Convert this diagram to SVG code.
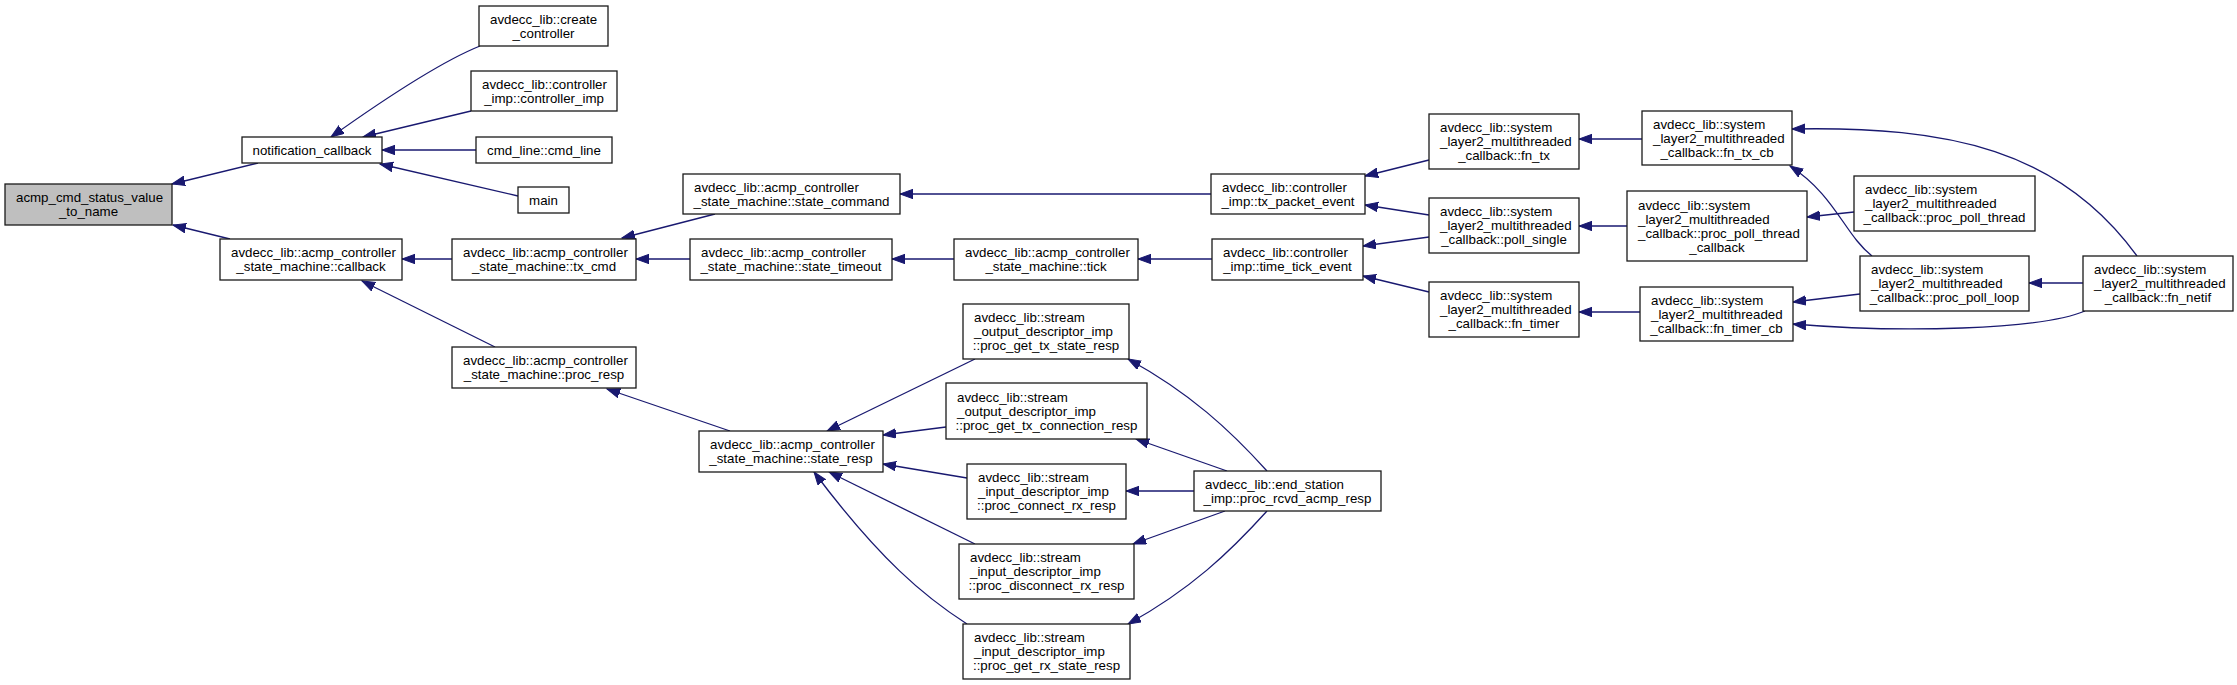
<svg xmlns="http://www.w3.org/2000/svg" width="2237" height="685" viewBox="0 0 2237 685">
<style>
.n rect{fill:#fff;stroke:#1a1a1a;stroke-width:1.3}
.root rect{fill:#bfbfbf}
text{font-family:"Liberation Sans",Arial,Helvetica,sans-serif;font-size:13.3px;fill:#000}
.c{text-anchor:middle}
#edges path{fill:none;stroke:#191970;stroke-width:1.3;marker-end:url(#a)}
</style>
<defs>
<marker id="a" markerUnits="userSpaceOnUse" markerWidth="15" markerHeight="11" refX="13" refY="5" orient="auto">
<path d="M0,0.3 L13,5 L0,9.7 z" fill="#191970" stroke="#191970" stroke-width="1"/>
</marker>
</defs>
<rect width="2237" height="685" fill="#fff"/>
<g id="edges">
<path d="M258,163 L172,184"/>
<path d="M230,239 L173,225"/>
<path d="M480,46 C445,60 390,95 331,137"/>
<path d="M471,111 L363,137"/>
<path d="M476,150 L382,150"/>
<path d="M518,196 L380,164"/>
<path d="M452,259 L402,259"/>
<path d="M495,347 L362,281"/>
<path d="M715,214 L622,238"/>
<path d="M690,259 L636,259"/>
<path d="M730,431 L607,389"/>
<path d="M1211,194 L900,194"/>
<path d="M954,259 L892,259"/>
<path d="M1212,259 L1138,259"/>
<path d="M975,359 L827,431"/>
<path d="M946,427 L883,435"/>
<path d="M967,478 L883,464"/>
<path d="M975,544 L829,472"/>
<path d="M967,624 C925,597 880,560 814,472"/>
<path d="M1267,471 C1230,430 1190,393 1128,359"/>
<path d="M1227,471 L1136,439"/>
<path d="M1194,491 L1126,491"/>
<path d="M1225,511 L1133,544"/>
<path d="M1267,511 C1230,552 1190,590 1128,624"/>
<path d="M1429,160 L1365,176"/>
<path d="M1429,215 L1365,205"/>
<path d="M1429,237 L1363,246"/>
<path d="M1429,292 L1363,276"/>
<path d="M1642,139 L1579,139"/>
<path d="M1627,226 L1579,226"/>
<path d="M1640,312 L1579,312"/>
<path d="M2137,256 C2060,150 1950,126 1792,129"/>
<path d="M1872,256 C1845,235 1835,195 1790,166"/>
<path d="M1854,212 L1807,217"/>
<path d="M1860,294 L1793,302"/>
<path d="M2083,283 L2029,283"/>
<path d="M2085,311 C2040,330 1900,333 1793,324"/>
</g>
<g id="n0" class="n root"><rect x="5" y="184" width="167" height="41"/><text x="16" y="202">acmp_cmd_status_value</text><text class="c" x="88.5" y="216">_to_name</text></g>
<g id="n1" class="n"><rect x="242" y="137" width="140" height="26"/><text class="c" x="312" y="154.5">notification_callback</text></g>
<g id="n2" class="n"><rect x="479" y="6" width="129" height="40"/><text x="490" y="23.5">avdecc_lib::create</text><text class="c" x="543.5" y="37.5">_controller</text></g>
<g id="n3" class="n"><rect x="471" y="71" width="146" height="40"/><text x="482" y="88.5">avdecc_lib::controller</text><text class="c" x="544" y="102.5">_imp::controller_imp</text></g>
<g id="n4" class="n"><rect x="476" y="137" width="136" height="26"/><text class="c" x="544" y="154.5">cmd_line::cmd_line</text></g>
<g id="n5" class="n"><rect x="518" y="187" width="51" height="26"/><text class="c" x="543.5" y="204.5">main</text></g>
<g id="n6" class="n"><rect x="220" y="239" width="182" height="41"/><text x="231" y="257">avdecc_lib::acmp_controller</text><text class="c" x="311" y="271">_state_machine::callback</text></g>
<g id="n7" class="n"><rect x="452" y="239" width="184" height="41"/><text x="463" y="257">avdecc_lib::acmp_controller</text><text class="c" x="544" y="271">_state_machine::tx_cmd</text></g>
<g id="n8" class="n"><rect x="452" y="347" width="184" height="41"/><text x="463" y="365">avdecc_lib::acmp_controller</text><text class="c" x="544" y="379">_state_machine::proc_resp</text></g>
<g id="n9" class="n"><rect x="683" y="174" width="217" height="40"/><text x="694" y="191.5">avdecc_lib::acmp_controller</text><text class="c" x="791.5" y="205.5">_state_machine::state_command</text></g>
<g id="n10" class="n"><rect x="690" y="239" width="202" height="41"/><text x="701" y="257">avdecc_lib::acmp_controller</text><text class="c" x="791" y="271">_state_machine::state_timeout</text></g>
<g id="n11" class="n"><rect x="699" y="431" width="184" height="41"/><text x="710" y="449">avdecc_lib::acmp_controller</text><text class="c" x="791" y="463">_state_machine::state_resp</text></g>
<g id="n12" class="n"><rect x="954" y="239" width="184" height="41"/><text x="965" y="257">avdecc_lib::acmp_controller</text><text class="c" x="1046" y="271">_state_machine::tick</text></g>
<g id="n13" class="n"><rect x="963" y="304" width="166" height="55"/><text x="974" y="322">avdecc_lib::stream</text><text x="974" y="336">_output_descriptor_imp</text><text class="c" x="1046" y="350">::proc_get_tx_state_resp</text></g>
<g id="n14" class="n"><rect x="946" y="383" width="201" height="56"/><text x="957" y="401.5">avdecc_lib::stream</text><text x="957" y="415.5">_output_descriptor_imp</text><text class="c" x="1046.5" y="429.5">::proc_get_tx_connection_resp</text></g>
<g id="n15" class="n"><rect x="967" y="464" width="159" height="55"/><text x="978" y="482">avdecc_lib::stream</text><text x="978" y="496">_input_descriptor_imp</text><text class="c" x="1046.5" y="510">::proc_connect_rx_resp</text></g>
<g id="n16" class="n"><rect x="959" y="544" width="175" height="55"/><text x="970" y="562">avdecc_lib::stream</text><text x="970" y="576">_input_descriptor_imp</text><text class="c" x="1046.5" y="590">::proc_disconnect_rx_resp</text></g>
<g id="n17" class="n"><rect x="963" y="624" width="167" height="55"/><text x="974" y="642">avdecc_lib::stream</text><text x="974" y="656">_input_descriptor_imp</text><text class="c" x="1046.5" y="670">::proc_get_rx_state_resp</text></g>
<g id="n18" class="n"><rect x="1211" y="174" width="154" height="40"/><text x="1222" y="191.5">avdecc_lib::controller</text><text class="c" x="1288" y="205.5">_imp::tx_packet_event</text></g>
<g id="n19" class="n"><rect x="1212" y="239" width="151" height="41"/><text x="1223" y="257">avdecc_lib::controller</text><text class="c" x="1287.5" y="271">_imp::time_tick_event</text></g>
<g id="n20" class="n"><rect x="1194" y="471" width="187" height="40"/><text x="1205" y="488.5">avdecc_lib::end_station</text><text class="c" x="1287.5" y="502.5">_imp::proc_rcvd_acmp_resp</text></g>
<g id="n21" class="n"><rect x="1429" y="114" width="150" height="55"/><text x="1440" y="132">avdecc_lib::system</text><text x="1440" y="146">_layer2_multithreaded</text><text class="c" x="1504" y="160">_callback::fn_tx</text></g>
<g id="n22" class="n"><rect x="1429" y="198" width="150" height="55"/><text x="1440" y="216">avdecc_lib::system</text><text x="1440" y="230">_layer2_multithreaded</text><text class="c" x="1504" y="244">_callback::poll_single</text></g>
<g id="n23" class="n"><rect x="1429" y="282" width="150" height="55"/><text x="1440" y="300">avdecc_lib::system</text><text x="1440" y="314">_layer2_multithreaded</text><text class="c" x="1504" y="328">_callback::fn_timer</text></g>
<g id="n24" class="n"><rect x="1642" y="111" width="150" height="54"/><text x="1653" y="128.5">avdecc_lib::system</text><text x="1653" y="142.5">_layer2_multithreaded</text><text class="c" x="1717" y="156.5">_callback::fn_tx_cb</text></g>
<g id="n25" class="n"><rect x="1627" y="191" width="180" height="70"/><text x="1638" y="209.5">avdecc_lib::system</text><text x="1638" y="223.5">_layer2_multithreaded</text><text x="1638" y="237.5">_callback::proc_poll_thread</text><text class="c" x="1717" y="251.5">_callback</text></g>
<g id="n26" class="n"><rect x="1640" y="287" width="153" height="54"/><text x="1651" y="304.5">avdecc_lib::system</text><text x="1651" y="318.5">_layer2_multithreaded</text><text class="c" x="1716.5" y="332.5">_callback::fn_timer_cb</text></g>
<g id="n27" class="n"><rect x="1854" y="176" width="181" height="55"/><text x="1865" y="194">avdecc_lib::system</text><text x="1865" y="208">_layer2_multithreaded</text><text class="c" x="1944.5" y="222">_callback::proc_poll_thread</text></g>
<g id="n28" class="n"><rect x="1860" y="256" width="169" height="55"/><text x="1871" y="274">avdecc_lib::system</text><text x="1871" y="288">_layer2_multithreaded</text><text class="c" x="1944.5" y="302">_callback::proc_poll_loop</text></g>
<g id="n29" class="n"><rect x="2083" y="256" width="150" height="55"/><text x="2094" y="274">avdecc_lib::system</text><text x="2094" y="288">_layer2_multithreaded</text><text class="c" x="2158" y="302">_callback::fn_netif</text></g>
</svg>
